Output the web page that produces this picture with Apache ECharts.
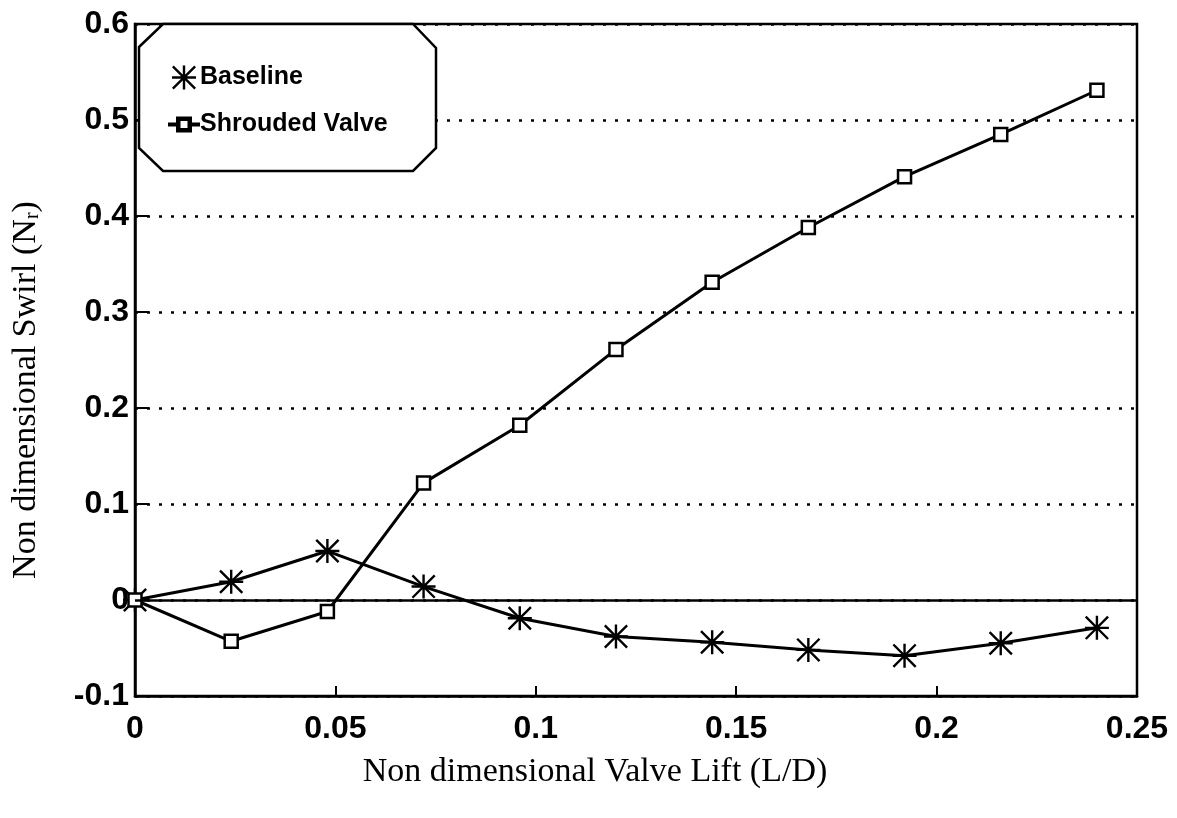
<!DOCTYPE html>
<html><head><meta charset="utf-8">
<script src="https://cdn.jsdelivr.net/npm/echarts@6/dist/echarts.min.js"></script>
<style>html,body{margin:0;padding:0;background:#fff}#c{width:1177px;height:818px}</style>
</head><body><div id="c"></div>
<script>
const liftValues = [0, 0.024, 0.048, 0.072, 0.096, 0.12, 0.144, 0.168, 0.192, 0.216, 0.24];
const baselineSwirl = [0, 0.019, 0.051, 0.014, -0.019, -0.038, -0.044, -0.052, -0.058, -0.045, -0.029];
const shroudedSwirl = [0, -0.043, -0.012, 0.122, 0.182, 0.261, 0.331, 0.388, 0.441, 0.485, 0.531];
const seriesNames = ['Baseline', 'Shrouded Valve'];
const xTicks = [0, 0.05, 0.1, 0.15, 0.2, 0.25];
const yTicks = [-0.1, 0, 0.1, 0.2, 0.3, 0.4, 0.5, 0.6];

const asterisk = 'path://M0 9L20 9L20 11L0 11Z M9 0L11 0L11 20L9 20Z M1.4 0L20 18.6L18.6 20L0 1.4Z M18.6 0L20 1.4L1.4 20L0 18.6Z';
const lineSquare = 'path://M0 9L8 9L8 11L0 11Z M22 9L30 9L30 11L22 11Z M8 3L22 3L22 17L8 17Z M10.5 5.5L10.5 14.5L19.5 14.5L19.5 5.5Z';

const chart = echarts.init(document.getElementById('c'), null, {renderer: 'canvas'});
const pairs = (xs, ys) => xs.map((x, i) => [x, ys[i]]);
const labelFont = {fontFamily: 'Liberation Sans, Arial, sans-serif', fontWeight: 'bold', fontSize: 32, color: '#000'};
const serif = 'Liberation Serif, Times New Roman, serif';

chart.setOption({
  animation: false,
  backgroundColor: '#fff',
  grid: {left: 135, right: 40, top: 24, bottom: 122, outerBoundsMode: 'none', containLabel: false,
    show: true, borderColor: '#000', borderWidth: 2.5, backgroundColor: 'transparent'},
  graphic: [{
    type: 'polygon', z: 5,
    shape: {points: [[139,47],[163,24],[413,24],[436,48],[436,148],[413,171],[163,171],[139,148]]},
    style: {fill: '#fff', stroke: '#000', lineWidth: 2.5}
  }],
  legend: {
    orient: 'vertical', left: 168, top: 65, padding: 0, itemGap: 22, z: 10,
    itemWidth: 30, itemHeight: 24,
    textStyle: {fontFamily: 'Liberation Sans, Arial, sans-serif', fontWeight: 'bold', fontSize: 25, color: '#000', padding: [0,0,0,-4]},
    data: [
      {name: seriesNames[0], icon: asterisk, itemStyle: {color: '#000'}},
      {name: seriesNames[1], icon: lineSquare, itemStyle: {color: '#000'}}
    ]
  },
  xAxis: {
    type: 'value', min: 0, max: 0.25, interval: 0.05,
    name: 'Non dimensional Valve Lift (L/D)', nameLocation: 'middle', nameGap: 59,
    nameTextStyle: {fontFamily: serif, fontSize: 34, color: '#000', padding: [0, 82, 0, 0]},
    axisLine: {onZero: false, lineStyle: {color: '#000', width: 2.5}},
    axisTick: {inside: true, length: 10, lineStyle: {color: '#000', width: 2}},
    axisLabel: Object.assign({margin: 17, formatter: v => String(+v.toFixed(2))}, labelFont),
    splitLine: {show: false}
  },
  yAxis: {
    type: 'value', min: -0.1, max: 0.6, interval: 0.1,
    name: 'Non dimensional Swirl (N{sub|r})', nameLocation: 'middle', nameGap: 92,
    nameTextStyle: {fontFamily: serif, fontSize: 34, color: '#000', padding: [0, 60, 0, 0],
      rich: {sub: {fontFamily: serif, fontSize: 20, verticalAlign: 'bottom', padding: [14,0,0,0], color: '#000'}}},
    axisLine: {onZero: false, lineStyle: {color: '#000', width: 2.5}},
    axisTick: {show: true, inside: true, length: 14, lineStyle: {color: '#000', width: 2}},
    axisLabel: Object.assign({margin: 6, formatter: v => String(+v.toFixed(1))}, labelFont),
    splitLine: {show: true, lineStyle: {color: '#000', width: 2.5, type: [3, 9]}}
  },
  series: [
    {
      name: seriesNames[0], type: 'line', data: pairs(liftValues, baselineSwirl),
      symbol: asterisk, symbolSize: 24, z: 3,
      lineStyle: {color: '#000', width: 3},
      itemStyle: {color: '#000'},
      markLine: {silent: true, symbol: 'none', label: {show: false},
        lineStyle: {color: '#000', width: 2.5, type: 'solid'}, data: [{yAxis: 0}]}
    },
    {
      name: seriesNames[1], type: 'line', data: pairs(liftValues, shroudedSwirl),
      symbol: 'rect', symbolSize: 13, showAllSymbol: true, z: 4,
      lineStyle: {color: '#000', width: 3},
      itemStyle: {color: '#fff', borderColor: '#000', borderWidth: 2.5}
    }
  ]
});
</script></body></html>
